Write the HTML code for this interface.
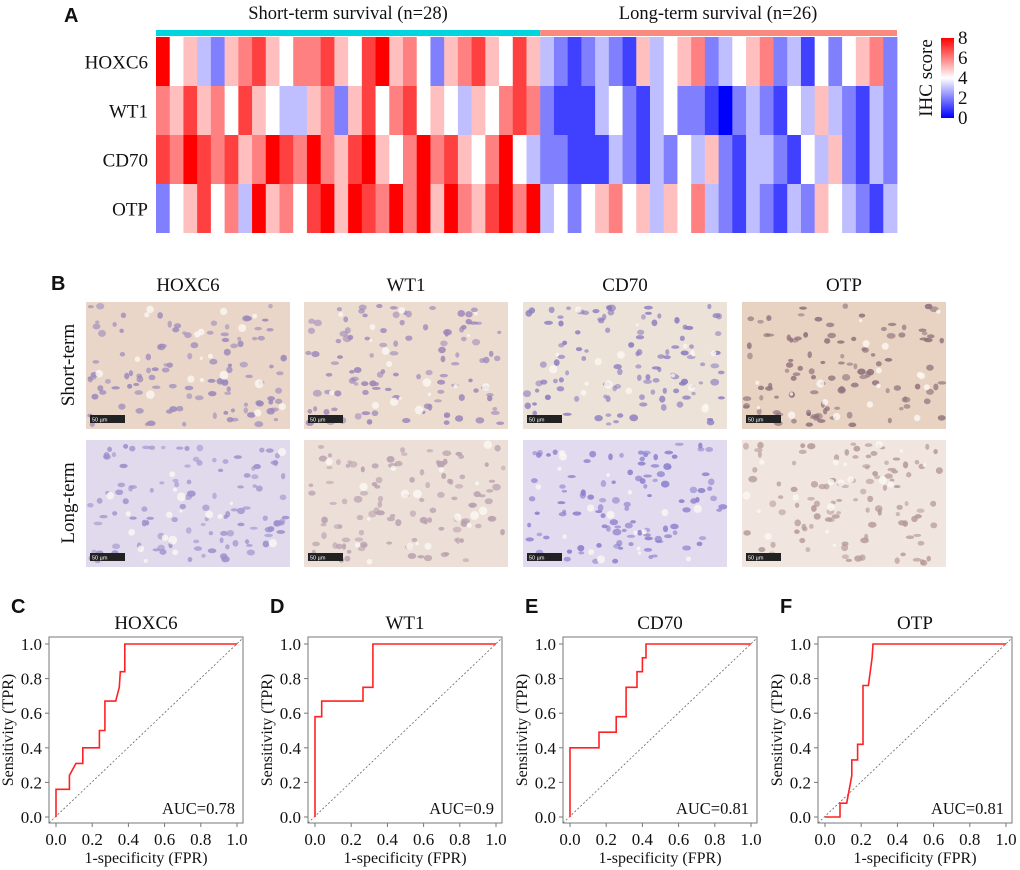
<!DOCTYPE html>
<html><head><meta charset="utf-8">
<style>
html,body{margin:0;padding:0;background:#fff;}
svg{display:block;}
text{font-family:"Liberation Serif",serif;fill:#111;}
.lab{font-family:"Liberation Sans",sans-serif;font-weight:bold;font-size:20px;}
</style></head>
<body>
<svg id="fig" width="1020" height="870" viewBox="0 0 1020 870">
  <text class="lab" x="64" y="22">A</text>
  <text x="348" y="19" font-size="18.5" text-anchor="middle">Short-term survival (n=28)</text>
  <text x="718" y="19" font-size="18.5" text-anchor="middle">Long-term survival (n=26)</text>
  <g id="heatmap"></g>
  <g id="legend"></g>
  <text class="lab" x="51" y="290">B</text>
  <g id="photos"></g>
  <g id="rocs"></g>
</svg>
<script>
// ---------- Heatmap data ----------
const genes = ["HOXC6","WT1","CD70","OTP"];
const shortHOXC6 = [8,4,5,3,2,5,6,7,5,4,6,6,7,5,4,7,8,5,6,4,2,5,6,7,5,4,7,5];
const shortWT1   = [6,5,7,5,6,4,7,5,4,3,3,5,6,2,5,7,4,6,7,4,5,4,3,5,4,6,7,6];
const shortCD70  = [7,6,8,7,6,7,5,6,8,7,6,8,6,5,7,8,5,4,6,8,6,7,5,4,6,8,4,3];
const shortOTP   = [2,4,5,7,4,6,3,8,5,6,4,7,8,5,8,7,6,8,6,8,5,8,6,5,7,8,6,8];
const longHOXC6  = [3,2,1,2,3,2,1,5,3,4,5,6,2,3,4,5,6,2,3,1,4,2,4,5,6,2];
const longWT1    = [2,1,1,1,3,4,2,1,3,4,2,2,1,0,2,3,2,1,4,3,5,3,2,1,3,2];
const longCD70   = [2,2,1,1,1,3,2,1,3,2,4,3,5,2,1,3,3,2,1,4,3,5,2,1,3,2];
const longOTP    = [3,4,2,4,5,6,4,5,3,5,4,6,3,2,1,3,2,1,3,2,5,4,3,2,1,3];
const legendTicks = [0,2,4,6,8];

// ---------- ROC data ----------
const rocTitles = ["HOXC6","WT1","CD70","OTP"];
const rocLetters = ["C","D","E","F"];
const rocAUC = ["AUC=0.78","AUC=0.9","AUC=0.81","AUC=0.81"];
const fprHOXC6 = [0,0,0.074,0.074,0.11,0.148,0.148,0.24,0.24,0.27,0.27,0.33,0.35,0.355,0.38,0.38,1];
const tprHOXC6 = [0,0.16,0.16,0.24,0.31,0.31,0.40,0.40,0.50,0.50,0.67,0.67,0.75,0.84,0.84,1,1];
const fprWT1 = [0,0,0.037,0.037,0.265,0.265,0.32,0.32,1];
const tprWT1 = [0,0.58,0.58,0.67,0.67,0.75,0.75,1,1];
const fprCD70 = [0,0,0.16,0.16,0.255,0.255,0.31,0.31,0.37,0.37,0.40,0.40,0.42,0.42,1];
const tprCD70 = [0,0.40,0.40,0.49,0.49,0.58,0.58,0.75,0.75,0.84,0.84,0.92,0.92,1,1];
const fprOTP = [0,0.083,0.083,0.12,0.148,0.148,0.18,0.18,0.21,0.21,0.24,0.26,0.265,1];
const tprOTP = [0,0,0.08,0.08,0.24,0.33,0.33,0.42,0.42,0.76,0.76,0.92,1,1];
const rocTicks = [0,0.2,0.4,0.6,0.8,1.0];

const NS = "http://www.w3.org/2000/svg";
function mk(tag, attrs, parent){
  const e = document.createElementNS(NS, tag);
  for (const k in attrs) e.setAttribute(k, attrs[k]);
  parent.appendChild(e); return e;
}
function colorOf(v){
  let r,g,b;
  if (v<=4){ const t=v/4; r=Math.round(255*t); g=r; b=255; }
  else { const t=(v-4)/4; r=255; g=Math.round(255*(1-t)); b=g; }
  return `rgb(${r},${g},${b})`;
}

// ---------- Heatmap drawing ----------
const hm = document.getElementById('heatmap');
const hmX0 = 156, hmX1 = 897, hmY0 = 37, rowH = 49;
const shortRows = [shortHOXC6, shortWT1, shortCD70, shortOTP];
const longRows = [longHOXC6, longWT1, longCD70, longOTP];
const nShort = shortHOXC6.length, nLong = longHOXC6.length, nCols = nShort + nLong;
const colW = (hmX1 - hmX0) / nCols;
const xCol = i => hmX0 + i * colW;
const yRow = r => hmY0 + r * rowH;
let bar = mk('rect', {x:xCol(0), y:30, width:nShort*colW, height:6, fill:'#00d5dd'}, hm);


bar = mk('rect', {x:xCol(nShort), y:30, width:nLong*colW, height:6, fill:'#fa8a80'}, hm);


genes.forEach((g, r) => {
  const vals = shortRows[r].concat(longRows[r]);
  vals.forEach((v, i) => {
    const c = mk('rect', {x:xCol(i), y:yRow(r), width:colW+0.4, height:rowH, fill:colorOf(v)}, hm);
    
    
  });
  const t = mk('text', {x:148, y:yRow(r)+rowH/2+7, 'font-size':19, 'text-anchor':'end'}, hm);
  t.textContent = g;
  
  
});

// ---------- Legend ----------
const lg = document.getElementById('legend');
const defs = mk('defs', {}, lg);
const grad = mk('linearGradient', {id:'cb', x1:0, y1:1, x2:0, y2:0}, defs);
mk('stop', {offset:'0', 'stop-color':'#0000ff'}, grad);
mk('stop', {offset:'0.5', 'stop-color':'#ffffff'}, grad);
mk('stop', {offset:'1', 'stop-color':'#ff0000'}, grad);
const cbY0 = 38, cbY1 = 118;
const cb = mk('rect', {x:941, y:cbY0, width:13, height:cbY1-cbY0, fill:'url(#cb)'}, lg);


legendTicks.forEach(v => {
  const t = mk('text', {x:958, y:cbY1 - (v/8)*(cbY1-cbY0) + 6, 'font-size':19}, lg);
  t.textContent = v;
  
  
});
const lt = mk('text', {x:0, y:0, 'font-size':19, 'text-anchor':'middle', transform:'translate(932,78) rotate(-90)'}, lg);
lt.textContent = 'IHC score';



// ---------- IHC photos (illustrative texture) ----------
const ph = document.getElementById('photos');
const photoX = [86, 304, 523, 742];
const photoW = 204;
const rowsY = [302, 440];
const photoH = 127;
const bgCol = [["#e9d6c9","#ecdcd0","#ede2d8","#e8d3c3"],["#e1daec","#ecdfd7","#e2dbef","#f1e6df"]];
const nucCol = [["#9a88bb","#9c86b8","#8a7cc0","#8e6f7a"],["#9a90cc","#b89fae","#8a80cc","#b59a98"]];
let seed = 7;
function rnd(){ seed = (seed*16807) % 2147483647; return seed/2147483647; }
rocTitles.forEach((g, c) => {
  const t = mk('text', {x:photoX[c]+photoW/2, y:291, 'font-size':19, 'text-anchor':'middle'}, ph);
  t.textContent = g;
  
  
  rowsY.forEach((y, r) => {
    const grp = mk('g', {}, ph);
    
    
    mk('rect', {x:photoX[c], y:y, width:photoW, height:photoH, fill:bgCol[r][c]}, grp);
    for (let k=0;k<110;k++){
      mk('ellipse', {cx:photoX[c]+4+rnd()*(photoW-8), cy:y+4+rnd()*(photoH-8), rx:2+rnd()*2.5, ry:1.5+rnd()*2, fill:nucCol[r][c], opacity:0.55+rnd()*0.35}, grp);
    }
    for (let k=0;k<18;k++){
      mk('circle', {cx:photoX[c]+4+rnd()*(photoW-8), cy:y+4+rnd()*(photoH-8), r:1.5+rnd()*3, fill:'#fbf7f3', opacity:0.8}, grp);
    }
    mk('rect', {x:photoX[c]+4, y:y+photoH-14, width:35, height:8, fill:'#222'}, grp);
    const s = mk('text', {x:photoX[c]+6, y:y+photoH-7.5, 'font-size':5.5, fill:'#fff', style:'fill:#fff;font-family:Liberation Sans,sans-serif'}, grp);
    s.textContent = '50 µm';
  });
});
[["Short-term",365],["Long-term",503]].forEach(([lab, cy]) => {
  const t = mk('text', {x:0, y:0, 'font-size':19, 'text-anchor':'middle', transform:`translate(74,${cy}) rotate(-90)`}, ph);
  t.textContent = lab;
  
  
});

// ---------- ROC panels ----------
const rc = document.getElementById('rocs');
const panelL = [49, 308, 563, 818];
const fprs = [fprHOXC6, fprWT1, fprCD70, fprOTP];
const tprs = [tprHOXC6, tprWT1, tprCD70, tprOTP];
const boxTop = 637, boxBot = 823, yAt1 = 644, yAt0 = 817;
const yScale = v => yAt0 - v*(yAt0-yAt1);
rocTitles.forEach((g, p) => {
  const L = panelL[p];
  const xScale = v => L + 7 + v*181;
  const grp = mk('g', {}, rc);
  
  
  const let_ = mk('text', {x:L-38, y:613, class:'lab'}, grp);
  let_.textContent = rocLetters[p];
  
  
  const tt = mk('text', {x:L+97, y:629, 'font-size':19, 'text-anchor':'middle'}, grp);
  tt.textContent = g;
  
  
  const box = mk('rect', {x:L, y:boxTop, width:194, height:boxBot-boxTop, fill:'none', stroke:'#777', 'stroke-width':1}, grp);
  
  
  rocTicks.forEach(v => {
    mk('line', {x1:xScale(v), x2:xScale(v), y1:boxBot, y2:boxBot+4, stroke:'#777'}, grp);
    const tx = mk('text', {x:xScale(v), y:845, 'font-size':17, 'text-anchor':'middle'}, grp);
    tx.textContent = v.toFixed(1);
    
    
    mk('line', {x1:L, x2:L-4, y1:yScale(v), y2:yScale(v), stroke:'#777'}, grp);
    const ty = mk('text', {x:L-7, y:yScale(v)+6, 'font-size':17, 'text-anchor':'end'}, grp);
    ty.textContent = v.toFixed(1);
    
    
  });
  const xl = mk('text', {x:L+97, y:863, 'font-size':16, 'text-anchor':'middle'}, grp);
  xl.textContent = '1-specificity (FPR)';
  
  
  const yl = mk('text', {x:0, y:0, 'font-size':16, 'text-anchor':'middle', transform:`translate(${L-36},730) rotate(-90)`}, grp);
  yl.textContent = 'Sensitivity (TPR)';
  
  
  const dg = mk('line', {x1:xScale(0)-7, y1:yScale(0)+6, x2:xScale(1)+6, y2:yScale(1)-6, stroke:'#666', 'stroke-width':0.8, 'stroke-dasharray':'2,2'}, grp);
  
  
  const pts = fprs[p].map((f, i) => xScale(f).toFixed(1) + ',' + yScale(tprs[p][i]).toFixed(1)).join(' ');
  const pl = mk('polyline', {points:pts, fill:'none', stroke:'#f22', 'stroke-width':1.6}, grp);
  
  
  const au = mk('text', {x:L+186, y:814, 'font-size':16.5, 'text-anchor':'end'}, grp);
  au.textContent = rocAUC[p];
  
  
});
</script>
</body></html>
